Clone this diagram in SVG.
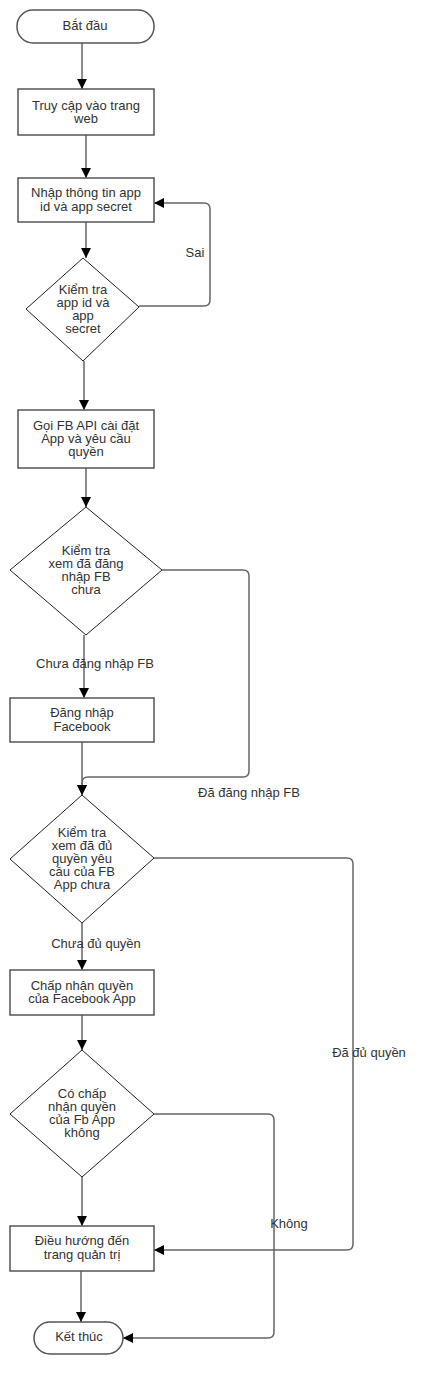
<svg xmlns="http://www.w3.org/2000/svg" width="445" height="1394" viewBox="0 0 445 1394">
<style>
text{font-family:"Liberation Sans",Arial,sans-serif;font-size:13px;fill:#333;text-anchor:middle}
.box{fill:#fff;stroke:#555;stroke-width:1.5}
.dia{fill:#fff;stroke:#222;stroke-width:1}
.c{fill:none;stroke:#666;stroke-width:1.5}
</style>
<defs>
<marker id="ah" viewBox="0 0 10 10" refX="10" refY="5" markerWidth="10" markerHeight="10" markerUnits="userSpaceOnUse" orient="auto">
<path d="M0,0 L10,5 L0,10 z" fill="#000"/>
</marker>
</defs>
<rect width="445" height="1394" fill="#fff"/>
<g id="connectors" marker-end="url(#ah)">
<path class="c" d="M82,43 L82,89"/>
<path class="c" d="M86,135 L86,178"/>
<path class="c" d="M139,306 L204,306 Q210,306 210,300 L210,209 Q210,203 204,203 L154,203"/>
<path class="c" d="M86,222 L86,258"/>
<path class="c" d="M84,361 L84,410"/>
<path class="c" d="M86,468 L86,507"/>
<path class="c" d="M162,570 L243,570 Q249,570 249,576 L249,771 Q249,777 243,777 L88,777 Q82,777 82,783 L82,795"/>
<path class="c" d="M84,635 L84,698"/>
<path class="c" d="M82,742 L82,795"/>
<path class="c" d="M154,858 L347,858 Q353,858 353,864 L353,1244 Q353,1250 347,1250 L154,1250"/>
<path class="c" d="M82,923 L82,970"/>
<path class="c" d="M82,1015 L82,1050"/>
<path class="c" d="M154,1114 L268,1114 Q274,1114 274,1120 L274,1332 Q274,1338 268,1338 L123,1338"/>
<path class="c" d="M82,1177 L82,1226"/>
<path class="c" d="M81,1271 L81,1322"/>
</g>
<g id="labels">
<text x="195" y="257">Sai</text>
<text x="95" y="668">Chưa đăng nhập FB</text>
<text x="249" y="797">Đã đăng nhập FB</text>
<text x="96" y="948">Chưa đủ quyền</text>
<text x="369" y="1057">Đã đủ quyền</text>
<text x="289" y="1228">Không</text>
</g>
<g id="start">
<rect class="box" x="17" y="10" width="137" height="33" rx="16"/>
<text x="85" y="30">Bắt đầu</text>
</g>
<g id="n1">
<rect class="box" x="18" y="89" width="136" height="46"/>
<text x="86" y="110">Truy cập vào trang</text>
<text x="86" y="123">web</text>
</g>
<g id="n2">
<rect class="box" x="18" y="178" width="136" height="44"/>
<text x="86" y="197">Nhập thông tin app</text>
<text x="86" y="211">id và app secret</text>
</g>
<g id="d1">
<polygon class="dia" points="83,258 139,307 83,361 26,309"/>
<text x="83" y="294">Kiểm tra</text>
<text x="83" y="307">app id và</text>
<text x="83" y="320">app</text>
<text x="83" y="333">secret</text>
</g>
<g id="n3">
<rect class="box" x="18" y="410" width="136" height="58"/>
<text x="86" y="430">Gọi FB API cài đặt</text>
<text x="86" y="443">App và yêu cầu</text>
<text x="86" y="456">quyền</text>
</g>
<g id="d2">
<polygon class="dia" points="86,507 162,570 86,635 10,570"/>
<text x="86" y="555">Kiểm tra</text>
<text x="86" y="568">xem đã đăng</text>
<text x="86" y="581">nhập FB</text>
<text x="86" y="594">chưa</text>
</g>
<g id="n4">
<rect class="box" x="10" y="698" width="144" height="44"/>
<text x="82" y="717">Đăng nhập</text>
<text x="82" y="731">Facebook</text>
</g>
<g id="d3">
<polygon class="dia" points="82,795 154,858 82,923 10,859"/>
<text x="82" y="837">Kiểm tra</text>
<text x="82" y="850">xem đã đủ</text>
<text x="82" y="863">quyền yêu</text>
<text x="82" y="876">cầu của FB</text>
<text x="82" y="889">App chưa</text>
</g>
<g id="n5">
<rect class="box" x="10" y="970" width="144" height="45"/>
<text x="82" y="990">Chấp nhận quyền</text>
<text x="82" y="1003">của Facebook App</text>
</g>
<g id="d4">
<polygon class="dia" points="82,1050 154,1114 82,1177 10,1114"/>
<text x="82" y="1098">Có chấp</text>
<text x="82" y="1111">nhận quyền</text>
<text x="82" y="1124">của Fb App</text>
<text x="82" y="1137">không</text>
</g>
<g id="n6">
<rect class="box" x="10" y="1226" width="144" height="45"/>
<text x="82" y="1245">Điều hướng đến</text>
<text x="82" y="1259">trang quản trị</text>
</g>
<g id="end">
<rect class="box" x="34" y="1322" width="89" height="32" rx="16"/>
<text x="79" y="1341">Kết thúc</text>
</g>
</svg>
